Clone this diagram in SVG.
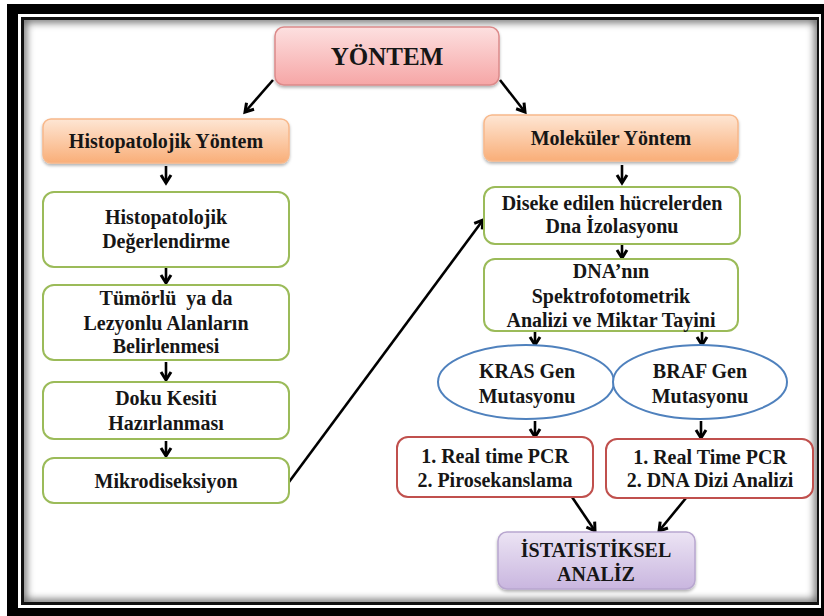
<svg xmlns="http://www.w3.org/2000/svg" width="824" height="616" viewBox="0 0 824 616">
  <defs>
    <style>
      .t { font-family: "Times New Roman", "Liberation Serif", "DejaVu Serif", serif; font-weight: 700; font-size: 20px; fill: #161616; text-anchor: middle; white-space: pre; }
      .big { font-size: 25px; }
      .green { fill: #ffffff; stroke: #9bbb59; stroke-width: 2; }
      .red { fill: #ffffff; stroke: #c0504d; stroke-width: 2; }
      .blue { fill: #ffffff; stroke: #4f81bd; stroke-width: 2; }
      .conn { stroke: #000; stroke-width: 2.6; fill: none; marker-end: url(#ah); }
    </style>
    <marker id="ah" markerUnits="userSpaceOnUse" viewBox="0 0 14 14" markerWidth="14" markerHeight="14" refX="11" refY="7" orient="auto">
      <path d="M3,2 L11,7 L3,12" fill="none" stroke="#000" stroke-width="3" stroke-linejoin="miter"/>
    </marker>
    <linearGradient id="gPink" x1="0" y1="0" x2="0" y2="1">
      <stop offset="0" stop-color="#fde0e0"/>
      <stop offset="1" stop-color="#f6a6a6"/>
    </linearGradient>
    <linearGradient id="gOrange" x1="0" y1="0" x2="0" y2="1">
      <stop offset="0" stop-color="#fee6d4"/>
      <stop offset="1" stop-color="#f9ae78"/>
    </linearGradient>
    <linearGradient id="gPurple" x1="0" y1="0" x2="0" y2="1">
      <stop offset="0" stop-color="#ece4f4"/>
      <stop offset="1" stop-color="#c9b6df"/>
    </linearGradient>
    <filter id="shadow" x="-10%" y="-10%" width="120%" height="130%">
      <feDropShadow dx="0" dy="2" stdDeviation="1.5" flood-color="#000" flood-opacity="0.3"/>
    </filter>
    <filter id="blur" x="-5%" y="-5%" width="110%" height="110%">
      <feGaussianBlur stdDeviation="4"/>
    </filter>
    <clipPath id="inner">
      <rect x="24" y="20" width="793" height="582"/>
    </clipPath>
  </defs>

  <!-- frame -->
  <rect x="0" y="0" width="824" height="616" fill="#ffffff"/>
  <rect x="7" y="4" width="817" height="612" fill="#000"/>
  <rect x="18" y="14" width="803" height="594" fill="#ffffff"/>
  <rect x="21" y="17" width="798" height="588" fill="#111"/>
  <rect x="24" y="20" width="793" height="582" fill="#ffffff"/>
  <g clip-path="url(#inner)">
    <rect x="22" y="18" width="797" height="586" fill="none" stroke="#000" stroke-width="8" filter="url(#blur)" opacity="0.65"/>
  </g>

  <!-- connectors -->
  <g id="connectors">
    <line class="conn" x1="273" y1="80" x2="245" y2="112"/>
    <line class="conn" x1="500" y1="80" x2="525" y2="112"/>
    <line class="conn" x1="166" y1="166" x2="166" y2="183"/>
    <line class="conn" x1="166" y1="268" x2="166" y2="283"/>
    <line class="conn" x1="166" y1="362" x2="166" y2="380"/>
    <line class="conn" x1="166" y1="441" x2="166" y2="456"/>
    <line class="conn" x1="289" y1="482" x2="483" y2="220"/>
    <line class="conn" x1="622" y1="165" x2="622" y2="183"/>
    <line class="conn" x1="622" y1="244" x2="622" y2="258"/>
    <line class="conn" x1="535" y1="331" x2="535" y2="345"/>
    <line class="conn" x1="702" y1="331" x2="702" y2="345"/>
    <line class="conn" x1="535" y1="421" x2="535" y2="437"/>
    <line class="conn" x1="701" y1="421" x2="701" y2="438"/>
    <line class="conn" x1="572" y1="497" x2="595" y2="531"/>
    <line class="conn" x1="686" y1="498" x2="659" y2="531"/>
  </g>

  <!-- nodes -->
  <g id="yontem">
    <rect x="275" y="27" width="224" height="58" rx="9" fill="url(#gPink)" stroke="#dc8a8a" stroke-width="1.5" filter="url(#shadow)"/>
    <text class="t big" x="387" y="65">YÖNTEM</text>
  </g>

  <g id="histopatolojik-yontem">
    <rect x="43" y="119" width="246" height="44" rx="8" fill="url(#gOrange)" stroke="#f8b88a" stroke-width="1.5" filter="url(#shadow)"/>
    <text class="t" x="166" y="148">Histopatolojik Yöntem</text>
  </g>

  <g id="degerlendirme">
    <rect class="green" x="43" y="192" width="246" height="75" rx="11"/>
    <text class="t" x="166" y="224">Histopatolojik</text>
    <text class="t" x="166" y="248">Değerlendirme</text>
  </g>

  <g id="tumorlu">
    <rect class="green" x="43" y="285" width="246" height="75" rx="11"/>
    <text class="t" x="166" y="305">Tümörlü  ya da</text>
    <text class="t" x="166" y="330">Lezyonlu Alanların</text>
    <text class="t" x="166" y="353">Belirlenmesi</text>
  </g>

  <g id="doku-kesiti">
    <rect class="green" x="43" y="382" width="246" height="57" rx="11"/>
    <text class="t" x="166" y="405">Doku Kesiti</text>
    <text class="t" x="166" y="430">Hazırlanması</text>
  </g>

  <g id="mikrodiseksiyon">
    <rect class="green" x="43" y="458" width="246" height="45" rx="11"/>
    <text class="t" x="166" y="488">Mikrodiseksiyon</text>
  </g>

  <g id="molekuler-yontem">
    <rect x="484" y="115" width="254" height="46" rx="8" fill="url(#gOrange)" stroke="#f8b88a" stroke-width="1.5" filter="url(#shadow)"/>
    <text class="t" x="611" y="145">Moleküler Yöntem</text>
  </g>

  <g id="dna-izolasyonu">
    <rect class="green" x="484" y="187" width="256" height="57" rx="11"/>
    <text class="t" x="612" y="210">Diseke edilen hücrelerden</text>
    <text class="t" x="612" y="233">Dna İzolasyonu</text>
  </g>

  <g id="dna-analizi">
    <rect class="green" x="484" y="259" width="254" height="72" rx="11"/>
    <text class="t" x="611" y="278">DNA’nın</text>
    <text class="t" x="611" y="303">Spektrofotometrik</text>
    <text class="t" x="611" y="327">Analizi ve Miktar Tayini</text>
  </g>

  <g id="kras">
    <ellipse class="blue" cx="526" cy="382" rx="88" ry="37"/>
    <text class="t" x="527" y="378">KRAS Gen</text>
    <text class="t" x="527" y="403">Mutasyonu</text>
  </g>

  <g id="braf">
    <ellipse class="blue" cx="700" cy="382" rx="87" ry="37"/>
    <text class="t" x="700" y="378">BRAF Gen</text>
    <text class="t" x="700" y="403">Mutasyonu</text>
  </g>

  <g id="kras-yontem">
    <rect class="red" x="397" y="437" width="196" height="60" rx="11"/>
    <text class="t" x="495" y="463">1. Real time PCR</text>
    <text class="t" x="495" y="487">2. Pirosekanslama</text>
  </g>

  <g id="braf-yontem">
    <rect class="red" x="606" y="439" width="207" height="59" rx="11"/>
    <text class="t" x="710" y="464">1. Real Time PCR</text>
    <text class="t" x="710" y="487">2. DNA Dizi Analizi</text>
  </g>

  <g id="istatistiksel-analiz">
    <rect x="498" y="532" width="197" height="57" rx="9" fill="url(#gPurple)" stroke="#b8a6cf" stroke-width="1.5" filter="url(#shadow)"/>
    <text class="t" x="596" y="557">İSTATİSTİKSEL</text>
    <text class="t" x="596" y="581">ANALİZ</text>
  </g>
</svg>
